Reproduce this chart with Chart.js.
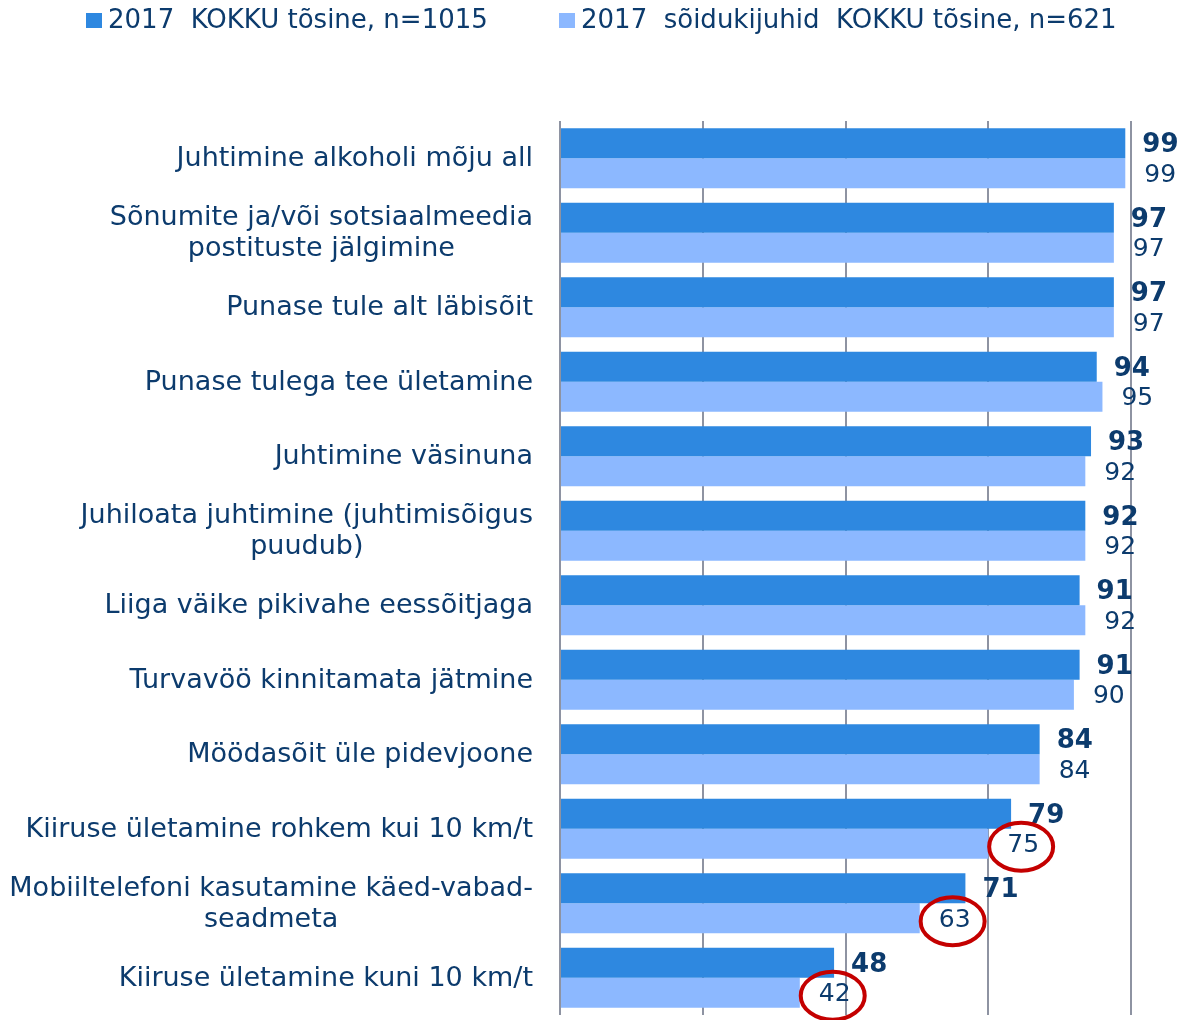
<!DOCTYPE html>
<html>
<head>
<meta charset="utf-8">
<script src="https://cdn.jsdelivr.net/npm/chart.js@4/dist/chart.umd.min.js"></script>
<style>
  html, body { margin: 0; padding: 0; background: #ffffff; }
  #wrap { width: 1182px; height: 1020px; }
</style>
</head>
<body>
<div id="wrap"><canvas id="c" width="1182" height="1020"></canvas></div>
<script>
// ---- data ----
const categories = [
  ['Juhtimine alkoholi mõju all'],
  ['Sõnumite ja/või sotsiaalmeedia', 'postituste jälgimine'],
  ['Punase tule alt läbisõit'],
  ['Punase tulega tee ületamine'],
  ['Juhtimine väsinuna'],
  ['Juhiloata juhtimine (juhtimisõigus', 'puudub)'],
  ['Liiga väike pikivahe eessõitjaga'],
  ['Turvavöö kinnitamata jätmine'],
  ['Möödasõit üle pidevjoone'],
  ['Kiiruse ületamine rohkem kui 10 km/t'],
  ['Mobiiltelefoni kasutamine käed-vabad-', 'seadmeta'],
  ['Kiiruse ületamine kuni 10 km/t']
];
const seriesTotal = [99, 97, 97, 94, 93, 92, 91, 91, 84, 79, 71, 48];
const seriesDrivers = [99, 97, 97, 95, 92, 92, 92, 90, 84, 75, 63, 42];
const seriesNames = ['2017  KOKKU tõsine, n=1015', '2017  sõidukijuhid  KOKKU tõsine, n=621'];
const xTicks = [0, 25, 50, 75, 100];
const circledDriverIdx = [9, 10, 11];

// ---- style ----
const FONT = "'DejaVu Sans', Verdana, sans-serif";
const TEXT = '#0C3B6D';
const DARK = '#2E88E0';
const LIGHT = '#8CB8FF';
const GRID = '#8E93A2';

const overlay = {
  id: 'overlay',
  afterDatasetsDraw(chart) {
    const ctx = chart.ctx;
    ctx.save();
    ctx.fillStyle = TEXT;
    ctx.textBaseline = 'middle';
    ctx.textAlign = 'left';
    // value labels
    chart.data.datasets.forEach((ds, di) => {
      const meta = chart.getDatasetMeta(di);
      meta.data.forEach((bar, i) => {
        const v = ds.data[i];
        ctx.font = (di === 0 ? 'bold 26px ' : '25px ') + FONT;
        const lx = bar.x + (di === 0 ? 17 : 19);
        const ly = bar.y + 2;
        ctx.fillStyle = TEXT;
        ctx.fillText(String(v), lx, ly);
        if (di === 1 && circledDriverIdx.includes(i)) {
          const w = ctx.measureText(String(v)).width;
          ctx.beginPath();
          ctx.strokeStyle = '#C40000';
          ctx.lineWidth = 4;
          ctx.ellipse(lx + w / 2 - 2, ly + 1, 32, 24, 0, 0, Math.PI * 2);
          ctx.stroke();
        }
      });
    });
    ctx.restore();
  },
  afterDraw(chart) {
    const ctx = chart.ctx;
    const y = chart.scales.y;
    ctx.save();
    ctx.fillStyle = TEXT;
    ctx.textBaseline = 'middle';
    ctx.textAlign = 'center';
    ctx.font = '27px ' + FONT;
    const right = 533;
    const lh = 31;
    categories.forEach((lines, i) => {
      const cy = y.getPixelForValue(i) + 1;
      const maxW = Math.max(...lines.map(l => ctx.measureText(l).width));
      const cx = right - maxW / 2;
      const y0 = cy - (lines.length - 1) * lh / 2;
      lines.forEach((l, k) => ctx.fillText(l, cx, y0 + k * lh));
    });
    // legend
    const colors = [DARK, LIGHT];
    const starts = [86, 559];
    ctx.textAlign = 'left';
    ctx.font = '26px ' + FONT;
    seriesNames.forEach((name, k) => {
      ctx.fillStyle = colors[k];
      ctx.fillRect(starts[k], 13, 16, 15);
      ctx.fillStyle = TEXT;
      ctx.fillText(name, starts[k] + 22, 21);
    });
    ctx.restore();
  }
};

new Chart(document.getElementById('c'), {
  type: 'bar',
  data: {
    labels: categories,
    datasets: [
      { label: seriesNames[0], data: seriesTotal, backgroundColor: DARK, borderWidth: 0,
        categoryPercentage: 0.805, barPercentage: 1.0 },
      { label: seriesNames[1], data: seriesDrivers, backgroundColor: LIGHT, borderWidth: 0,
        categoryPercentage: 0.805, barPercentage: 1.0 }
    ]
  },
  options: {
    indexAxis: 'y',
    responsive: false,
    devicePixelRatio: 1,
    animation: false,
    layout: { padding: { top: 121, bottom: 5, left: 0, right: 51 } },
    plugins: { legend: { display: false }, tooltip: { enabled: false } },
    scales: {
      x: {
        min: 0, max: 100,
        afterBuildTicks(s) { s.ticks = xTicks.map(v => ({ value: v })); },
        ticks: { display: false },
        grid: { color: GRID, lineWidth: 2, drawTicks: false },
        border: { display: false },
        afterFit(s) { s.height = 0; }
      },
      y: {
        ticks: { display: false },
        grid: { display: false },
        border: { display: false },
        afterFit(s) { s.width = 560; }
      }
    }
  },
  plugins: [overlay]
});
</script>
</body>
</html>
